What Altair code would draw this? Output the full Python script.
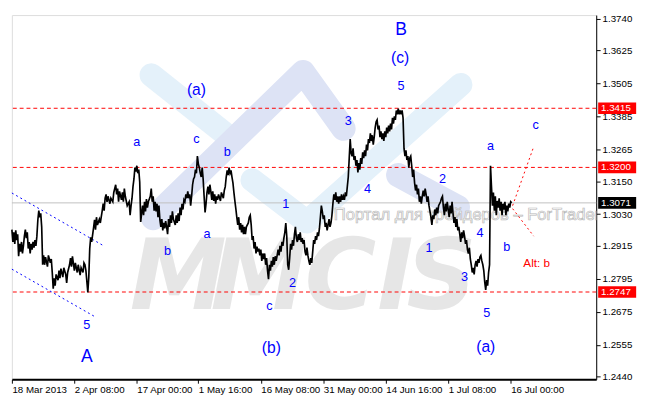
import altair as alt
import pandas as pd

# ---------------- price series (H4 bar index, close) ----------------
bar_idx = [
    0, 1, 2, 3, 4, 5, 6, 7, 8, 9,
    10, 11, 12, 13, 14, 15, 16, 17, 18, 19,
    20, 21, 22, 23, 24, 25, 26, 27, 28, 29,
    30, 31, 32, 33, 34, 35, 37, 38, 40, 41,
    42, 43, 44, 45, 46, 48, 49, 50, 51, 53,
    54, 56, 57, 58, 60, 61, 62, 63, 65, 66,
    68, 69, 71, 72, 74, 75, 76, 77, 79, 80,
    81, 82, 83, 85, 86, 87, 88, 89, 91, 92,
    94, 95, 96, 97, 98, 99, 100, 102, 103, 105,
    106, 108, 109, 110, 111, 112, 114, 115, 116, 117,
    118, 120, 122, 123, 124, 125, 126, 127, 128, 129,
    130, 131, 132, 133, 134, 135, 136, 137, 138, 139,
    140, 141, 142, 144, 145, 146, 147, 148, 149, 150,
    151, 152, 153, 154, 155, 156, 157, 158, 159, 160,
    161, 162, 163, 164, 165, 166, 167, 168, 170, 171,
    172, 173, 174, 175, 176, 177, 178, 179, 180, 181,
    182, 183, 184, 185, 186, 187, 188, 189, 190, 191,
    192, 193, 194, 195, 196, 197, 198, 199, 200, 201,
    202, 203, 204, 205, 206, 207, 208, 209, 210, 211,
    212, 213, 214, 215, 217, 218, 220, 221, 222, 223,
    224, 225, 226, 227, 228, 229, 230, 231, 232, 233,
    234, 235, 236, 237, 238, 239, 240, 241, 242, 243,
    244, 246, 247, 248, 249, 250, 251, 252, 253, 254,
    255, 256, 257, 258, 259, 260, 261, 262, 263, 264,
    265, 266, 267, 268, 269, 270, 271, 272, 273, 274,
    275, 276, 277, 278, 279, 280, 281, 282, 283, 284,
    285, 286, 287, 288, 289, 290, 291, 292, 293, 294,
    295, 296, 297, 298, 299, 300, 301, 302, 303, 304,
    305, 306, 307, 308, 309, 310, 311, 312, 313, 314,
    315, 316, 317, 318, 319, 320, 321, 322, 323, 324,
    325, 326, 327, 328, 329, 330, 331, 332, 333, 334,
    335, 336, 337, 338, 339, 340, 341, 342, 343, 344,
    345, 346, 347, 348, 349, 350, 351, 352, 353, 354,
    355, 356, 357, 358, 359, 360, 361, 362, 363, 364,
    365, 366, 367, 368, 369, 370, 371, 372, 373, 374,
    375, 376, 377, 378, 379, 380, 381, 382, 383, 384,
    385, 386, 387, 388, 389, 390, 391, 392, 393, 394,
    395, 396, 397, 398, 399, 400, 401, 402, 403, 404,
    405, 406, 407, 408, 409, 410, 411, 412, 413, 414,
    415, 416, 417, 418, 419, 420, 421, 422, 423, 424,
    425, 426, 427, 428, 429, 430, 431, 432, 433, 434,
    435, 436, 437, 438, 439, 440, 441, 442, 443, 444,
    446, 447, 448, 449, 450, 451, 452, 453, 454, 455,
    456, 457, 458, 459, 460, 461, 462, 463, 464, 465,
    466, 467, 468, 469, 470, 471, 472, 473, 474, 475,
    476, 477, 478, 479, 480, 481, 482, 483, 484, 485,
    486, 487, 488, 489, 490, 491, 492, 493, 494, 495,
    496, 497, 498, 499, 500, 501, 502, 503, 504, 505,
    506, 507, 508, 509, 510, 511, 512, 513, 514, 515,
    516, 517, 518, 519, 520,
]
close = [
    1.2974, 1.2929, 1.2964, 1.2922, 1.2971, 1.2936, 1.2957, 1.2877, 1.2922, 1.2894,
    1.2929, 1.2887, 1.2915, 1.2950, 1.2974, 1.2943, 1.2964, 1.2905, 1.2929, 1.2887,
    1.2922, 1.2901, 1.2929, 1.2908, 1.2936, 1.2915, 1.2950, 1.3009, 1.3043, 1.3019,
    1.3033, 1.2984, 1.2846, 1.2880, 1.2846, 1.2874, 1.2839, 1.2880, 1.2853, 1.2867,
    1.2818, 1.2759, 1.2797, 1.2770, 1.2811, 1.2790, 1.2825, 1.2797, 1.2832, 1.2801,
    1.2835, 1.2811, 1.2780, 1.2818, 1.2846, 1.2870, 1.2839, 1.2877, 1.2825, 1.2853,
    1.2818, 1.2846, 1.2808, 1.2835, 1.2818, 1.2853, 1.2846, 1.2825, 1.2745, 1.2801,
    1.2905, 1.2946, 1.2929, 1.2981, 1.3009, 1.2974, 1.3019, 1.2991, 1.3012, 1.2998,
    1.3043, 1.3068, 1.3043, 1.3088, 1.3102, 1.3075, 1.3095, 1.3068, 1.3088, 1.3075,
    1.3109, 1.3137, 1.3102, 1.3123, 1.3075, 1.3113, 1.3082, 1.3109, 1.3075, 1.3123,
    1.3095, 1.3061, 1.3075, 1.3026, 1.3061, 1.3088, 1.3130, 1.3158, 1.3199, 1.3185,
    1.3206, 1.3179, 1.3192, 1.3147, 1.3002, 1.3033, 1.3061, 1.3026, 1.3075, 1.3040,
    1.3085, 1.3054, 1.3075, 1.3095, 1.3123, 1.3075, 1.3095, 1.3043, 1.3075, 1.3040,
    1.3068, 1.3019, 1.3061, 1.3009, 1.2984, 1.3012, 1.2971, 1.2998, 1.2978, 1.3005,
    1.2984, 1.2957, 1.3012, 1.2984, 1.3026, 1.2998, 1.3040, 1.3012, 1.2991, 1.3026,
    1.2998, 1.3033, 1.3005, 1.3054, 1.3026, 1.3068, 1.3047, 1.3082, 1.3075, 1.3102,
    1.3088, 1.3113, 1.3088, 1.3102, 1.3061, 1.3095, 1.3137, 1.3158, 1.3165, 1.3192,
    1.3179, 1.3241, 1.3213, 1.3199, 1.3179, 1.3165, 1.3199, 1.3158, 1.3095, 1.3036,
    1.3068, 1.3109, 1.3130, 1.3102, 1.3137, 1.3113, 1.3082, 1.3113, 1.3078, 1.3102,
    1.3068, 1.3095, 1.3082, 1.3102, 1.3078, 1.3109, 1.3088, 1.3116, 1.3130, 1.3165,
    1.3189, 1.3172, 1.3199, 1.3179, 1.3189, 1.3165, 1.3144, 1.3109, 1.3078, 1.3050,
    1.3019, 1.2991, 1.3019, 1.2974, 1.2998, 1.2964, 1.2991, 1.2957, 1.2984, 1.2957,
    1.2984, 1.2998, 1.3019, 1.3026, 1.2991, 1.2936, 1.2950, 1.2905, 1.2929, 1.2887,
    1.2912, 1.2894, 1.2905, 1.2880, 1.2901, 1.2860, 1.2887, 1.2867, 1.2887, 1.2846,
    1.2870, 1.2825, 1.2794, 1.2846, 1.2825, 1.2860, 1.2839, 1.2874, 1.2846, 1.2877,
    1.2860, 1.2880, 1.2901, 1.2880, 1.2915, 1.2894, 1.2929, 1.2915, 1.2943, 1.2964,
    1.2998, 1.2950, 1.2846, 1.2828, 1.2870, 1.2922, 1.2901, 1.2936, 1.2915, 1.2957,
    1.2984, 1.2943, 1.2929, 1.2957, 1.2936, 1.2964, 1.2929, 1.2943, 1.2922, 1.2936,
    1.2894, 1.2880, 1.2908, 1.2880, 1.2860, 1.2846, 1.2870, 1.2853, 1.2894, 1.2936,
    1.2922, 1.2950, 1.2936, 1.2964, 1.2950, 1.2978, 1.3019, 1.3061, 1.3040, 1.3012,
    1.3026, 1.2984, 1.2998, 1.2971, 1.2991, 1.3012, 1.2984, 1.2998, 1.3026, 1.3068,
    1.3102, 1.3082, 1.3109, 1.3075, 1.3095, 1.3068, 1.3095, 1.3075, 1.3102, 1.3082,
    1.3095, 1.3082, 1.3109, 1.3095, 1.3130, 1.3165, 1.3234, 1.3303, 1.3251, 1.3241,
    1.3269, 1.3227, 1.3241, 1.3206, 1.3227, 1.3182, 1.3216, 1.3192, 1.3234, 1.3213,
    1.3255, 1.3234, 1.3262, 1.3241, 1.3283, 1.3262, 1.3303, 1.3289, 1.3324, 1.3296,
    1.3317, 1.3283, 1.3310, 1.3345, 1.3366, 1.3373, 1.3338, 1.3352, 1.3310, 1.3331,
    1.3303, 1.3324, 1.3296, 1.3331, 1.3310, 1.3345, 1.3324, 1.3352, 1.3331, 1.3359,
    1.3338, 1.3380, 1.3359, 1.3386, 1.3373, 1.3407, 1.3393, 1.3414, 1.3393, 1.3407,
    1.3393, 1.3407, 1.3380, 1.3269, 1.3241, 1.3262, 1.3227, 1.3241, 1.3199, 1.3234,
    1.3241, 1.3206, 1.3165, 1.3192, 1.3144, 1.3116, 1.3137, 1.3102, 1.3123, 1.3075,
    1.3095, 1.3068, 1.3095, 1.3116, 1.3095, 1.3123, 1.3102, 1.3075, 1.3095, 1.3061,
    1.3040, 1.3019, 1.2991, 1.3026, 1.3012, 1.3047, 1.3026, 1.3054, 1.3033, 1.3061,
    1.3075, 1.3088, 1.3095, 1.3054, 1.3026, 1.3068, 1.3040, 1.3075, 1.3047, 1.3019,
    1.3061, 1.3033, 1.3075, 1.3033, 1.2998, 1.3019, 1.2984, 1.3012, 1.2971, 1.2984,
    1.2957, 1.2929, 1.2964, 1.2943, 1.2971, 1.2950, 1.2922, 1.2936, 1.2901, 1.2887,
    1.2908, 1.2867, 1.2846, 1.2818, 1.2835, 1.2811, 1.2846, 1.2860, 1.2839, 1.2867,
    1.2853, 1.2874, 1.2880, 1.2860, 1.2846, 1.2825, 1.2783, 1.2755, 1.2790, 1.2770,
    1.2818, 1.2846, 1.3206, 1.3130, 1.3061, 1.3109, 1.3043, 1.3095, 1.3026, 1.3078,
    1.3054, 1.3088, 1.3043, 1.3075, 1.3026, 1.3068, 1.3047, 1.3075, 1.3026, 1.3061,
    1.3040, 1.3068, 1.3054, 1.3075, 1.3071,
]

# ---------------- axes ----------------
x_tick_idx = [0, 65, 130, 194, 259, 324, 389, 454, 519]
x_tick_labels = ["18 Mar 2013", "2 Apr 08:00", "17 Apr 00:00", "1 May 16:00",
                 "16 May 08:00", "31 May 00:00", "14 Jun 16:00", "1 Jul 08:00",
                 "16 Jul 00:00"]
y_ticks = [1.2440, 1.2555, 1.2675, 1.2795, 1.2915, 1.3030, 1.3150, 1.3265,
           1.3385, 1.3505, 1.3625, 1.3740]

# ---------------- levels ----------------
level_prices = [1.3415, 1.3200, 1.2747]
current_price = [1.3071]
tag_prices = [1.3415, 1.3200, 1.2747, 1.3071]
tag_colors = ["#ff0000", "#ff0000", "#ff0000", "#000000"]

# channel (blue dotted) and projections (red dotted)
chan_seg = ["up", "up", "lo", "lo"]
chan_x = [0, 95, 0, 87]
chan_p = [1.3107, 1.2916, 1.2830, 1.2656]
proj_seg = ["c", "c", "b", "b"]
proj_x = [521, 543, 521, 543]
proj_p = [1.3061, 1.3276, 1.3050, 1.2950]

# wave labels
lab_text = ["a", "c", "b", "3", "5", "4", "1", "a", "b", "2", "c",
            "2", "1", "4", "3", "5", "a", "c", "b", "5"]
lab_x = [130, 192, 224, 350, 405, 370, 285, 203, 162, 292, 268,
         448, 434, 487, 471, 494, 498, 545, 515, 78]
lab_p = [1.3293, 1.3303, 1.3255, 1.3369, 1.3497, 1.3120, 1.3068, 1.2957, 1.2894, 1.2780, 1.2697,
         1.3158, 1.2908, 1.2960, 1.2801, 1.2672, 1.3276, 1.3352, 1.2912, 1.2627]
mid_text = ["(a)", "(c)", "(b)", "(a)"]
mid_x = [192, 404, 270, 493]
mid_p = [1.3480, 1.3598, 1.2544, 1.2548]
big_text = ["A", "B"]
big_x = [78, 405]
big_p = [1.2510, 1.3700]
alt_text = ["Alt: b"]
alt_x = [546]
alt_p = [1.2853]

# watermark
wm_letters = ["M", "M", "C", "I", "S"]
wm_x = [173, 257, 342, 399, 447]
wm_p = [1.2686] * 5
wm_caption = ["Портал для трейдеров – ForTrader.ru"]
wm_caption_x = [335]
wm_caption_p = [1.3026]
logo_blue_seg = ["l1", "l1", "v", "v", "v"]
logo_blue_x = [145, 220, 250, 307, 467]
logo_blue_p = [1.3536, 1.3327, 1.3154, 1.3002, 1.3501]
logo_lav_seg = ["p1", "p1", "p1", "p2", "p2"]
logo_lav_x = [147, 303, 345, 402, 464]
logo_lav_p = [1.3016, 1.3546, 1.3341, 1.3172, 1.3055]

# ---------------- chart ----------------
W, H = 600, 374
xs = alt.Scale(domain=[0, 608], nice=False, zero=False)
ys = alt.Scale(domain=[1.24296, 1.37539], nice=False, zero=False)

label_expr = ("[" + ",".join("'%s'" % s for s in x_tick_labels) + "][indexof(["
              + ",".join(str(v) for v in x_tick_idx) + "], datum.value)]")
xax = alt.Axis(values=x_tick_idx, labelExpr=label_expr, title=None, grid=False,
               domainColor="black", domainWidth=2, tickColor="black", tickSize=4,
               labelAlign="left", labelPadding=2, labelFont="Liberation Sans",
               labelFontSize=10, labelColor="black", labelOverlap=False,
               labelFlush=False, orient="bottom")
yax = alt.Axis(values=y_ticks, format=".4f", orient="right", title=None, grid=False,
               domainColor="black", domainWidth=1, tickColor="black", tickSize=4,
               labelPadding=2, labelFont="Liberation Sans", labelFontSize=10,
               labelColor="black", labelOverlap=False, labelFlush=False)


def X():
    return alt.X("x:Q", scale=xs, axis=xax)


def Y():
    return alt.Y("p:Q", scale=ys, axis=yax)


price_df = pd.DataFrame({"x": bar_idx, "p": close})
blue_df = pd.DataFrame({"x": logo_blue_x, "p": logo_blue_p, "s": logo_blue_seg})
lav_df = pd.DataFrame({"x": logo_lav_x, "p": logo_lav_p, "s": logo_lav_seg})
wm_df = pd.DataFrame({"x": wm_x, "p": wm_p, "t": wm_letters})
cap_df = pd.DataFrame({"x": wm_caption_x, "p": wm_caption_p, "t": wm_caption})
lev_df = pd.DataFrame({"p": level_prices})
cur_df = pd.DataFrame({"p": current_price})
chan_df = pd.DataFrame({"x": chan_x, "p": chan_p, "s": chan_seg})
proj_df = pd.DataFrame({"x": proj_x, "p": proj_p, "s": proj_seg})
lab_df = pd.DataFrame({"x": lab_x, "p": lab_p, "t": lab_text})
mid_df = pd.DataFrame({"x": mid_x, "p": mid_p, "t": mid_text})
big_df = pd.DataFrame({"x": big_x, "p": big_p, "t": big_text})
alt_df = pd.DataFrame({"x": alt_x, "p": alt_p, "t": alt_text})
tag_df = pd.DataFrame({"p": tag_prices, "c": tag_colors,
                       "t": ["%.4f" % v for v in tag_prices]})

logo_blue = alt.Chart(blue_df).mark_line(
    color="#e4f1fa", strokeWidth=24, strokeCap="round", strokeJoin="round"
).encode(x=X(), y=Y(), detail="s:N")
logo_lav = alt.Chart(lav_df).mark_line(
    color="#dde3f5", strokeWidth=25, strokeCap="round", strokeJoin="round"
).encode(x=X(), y=Y(), detail="s:N")
wm_letters_layer = alt.Chart(wm_df).mark_text(
    font="DejaVu Sans", fontWeight="bold", fontStyle="italic", fontSize=100,
    color="#e6e6e6", baseline="alphabetic", align="center"
).encode(x=X(), y=Y(), text="t:N")
caption = alt.Chart(cap_df).mark_text(
    font="Liberation Sans", fontSize=17, align="left", baseline="middle",
    fill="white", stroke="#b8b8b8", strokeWidth=0.7, clip=True
).encode(x=X(), y=Y(), text="t:N")

levels = alt.Chart(lev_df).mark_rule(color="#ff0000", strokeDash=[4, 3],
                                      strokeWidth=1).encode(y=Y())
current = alt.Chart(cur_df).mark_rule(color="#c0c0c0", strokeWidth=1).encode(y=Y())
channel = alt.Chart(chan_df).mark_line(color="#0000ff", strokeDash=[2, 3],
                                        strokeWidth=1).encode(x=X(), y=Y(), detail="s:N")
price = alt.Chart(price_df).mark_line(color="black", strokeWidth=1.7).encode(x=X(), y=Y())
proj = alt.Chart(proj_df).mark_line(color="#ff0000", strokeDash=[2, 3],
                                     strokeWidth=1).encode(x=X(), y=Y(), detail="s:N")

labels = alt.Chart(lab_df).mark_text(font="Liberation Sans", fontSize=13,
                                     color="#0000ff", baseline="middle").encode(
    x=X(), y=Y(), text="t:N")
mids = alt.Chart(mid_df).mark_text(font="Liberation Sans", fontSize=16,
                                   color="#0000ff", baseline="middle").encode(
    x=X(), y=Y(), text="t:N")
bigs = alt.Chart(big_df).mark_text(font="Liberation Sans", fontSize=18,
                                   color="#0000ff", baseline="middle").encode(
    x=X(), y=Y(), text="t:N")
alts = alt.Chart(alt_df).mark_text(font="Liberation Sans", fontSize=12,
                                   color="#ff0000", baseline="middle").encode(
    x=X(), y=Y(), text="t:N")

tag_box = alt.Chart(tag_df).mark_rule(strokeWidth=12).encode(
    x=alt.value(W + 2), x2=alt.value(W + 41), y=Y(),
    color=alt.Color("c:N", scale=None))
tag_text = alt.Chart(tag_df).mark_text(
    font="Liberation Sans", fontSize=10, color="white", align="left",
    baseline="middle").encode(x=alt.value(W + 5), y=Y(), text="t:N")

chart = alt.layer(
    logo_blue, logo_lav, wm_letters_layer, caption, levels, current, channel,
    price, proj, labels, mids, bigs, alts, tag_box, tag_text
).properties(width=W, height=H, padding=0).configure_view(
    stroke="black", strokeWidth=1
).configure(background="white")

chart.save("out.html", embed_options={"renderer": "svg", "actions": False})
